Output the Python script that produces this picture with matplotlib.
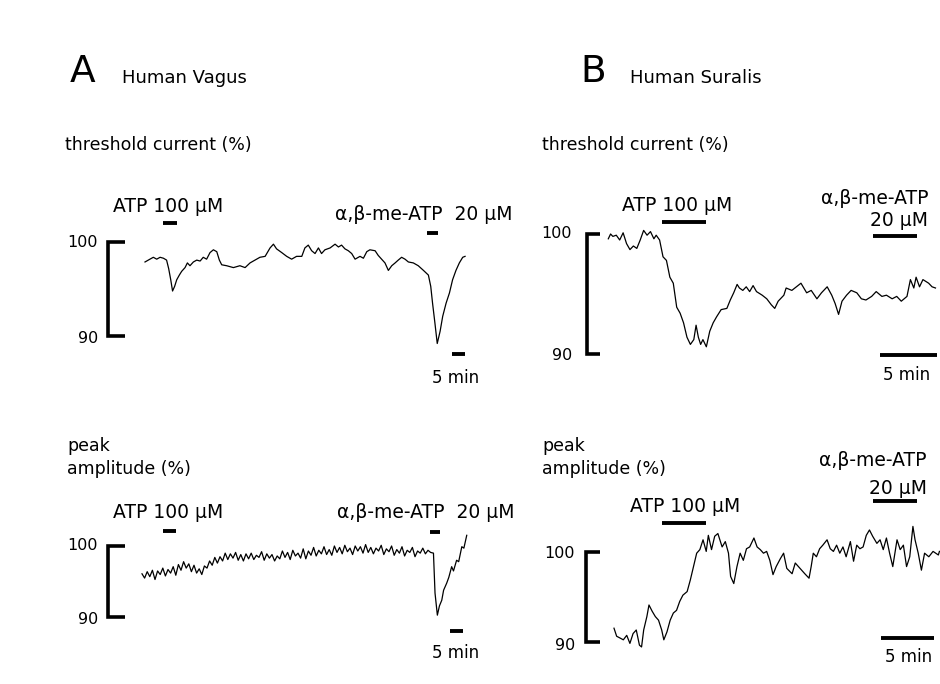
import matplotlib.pyplot as plt

# ==========================================
# Data (time in min, value in % of control)
# ==========================================
# A - Human Vagus, threshold current
A_THR_T = [0, 1.9, 3.2, 4.5, 5.8, 7.1, 8.3, 9.1, 9.9, 10.6, 11.4, 12.2, 13.2, 14.1,
           15.4, 16.3, 17.3, 18.6, 19.9, 21.2, 22.4, 23.7, 25.0, 26.3, 27.6, 28.6,
           29.5, 31.4, 34.0, 36.5, 38.5, 40.4, 42.3, 44.2, 46.2, 48.1, 49.4, 50.6,
           52.6, 54.5, 56.4, 58.3, 60.3, 61.5, 62.8, 64.1, 65.4, 66.7, 67.9, 69.2,
           71.2, 73.1, 74.4, 75.6, 76.9, 78.2, 79.5, 80.8, 82.7, 84.0, 85.3, 86.5,
           88.5, 89.7, 91.0, 92.3, 93.6, 94.9, 96.2, 97.4, 98.7, 100.0, 101.3, 103.2,
           105.1, 107.1, 109.0, 109.9, 110.6, 111.5, 112.4, 113.5, 114.5, 115.8,
           117.1, 118.3, 119.6, 120.9, 122.2, 123.1]
A_THR_V = [97.9, 98.2, 98.4, 98.2, 98.4, 98.3, 98.1, 97.2, 96.0, 94.8, 95.3, 96.0, 96.5, 96.9,
           97.3, 97.8, 97.5, 97.9, 98.1, 98.0, 98.4, 98.2, 98.9, 99.2, 99.0, 98.1,
           97.6, 97.5, 97.3, 97.5, 97.3, 97.8, 98.1, 98.4, 98.5, 99.4, 99.8, 99.3,
           98.9, 98.5, 98.2, 98.5, 98.5, 99.4, 99.7, 99.1, 98.8, 99.4, 98.8, 99.2,
           99.4, 99.8, 99.5, 99.7, 99.3, 99.1, 98.8, 98.2, 98.5, 98.3, 99.0, 99.2,
           99.1, 98.6, 98.2, 97.8, 97.0, 97.5, 97.8, 98.1, 98.4, 98.2, 97.9, 97.8,
           97.5, 97.0, 96.5, 95.3, 93.5, 91.4, 89.2, 90.5, 92.1, 93.5,
           94.6, 96.0, 97.0, 97.8, 98.4, 98.5]

# A - Human Vagus, peak amplitude
A_AMP_T = [0, 1, 2, 3, 4, 5, 6, 7, 8, 9, 10, 11, 12, 13, 14, 15, 16, 17, 18, 19,
           20, 21, 22, 23, 24, 25, 26, 27, 28, 29, 30, 31, 32, 33, 34, 35, 36, 37, 38, 39,
           40, 41, 42, 43, 44, 45, 46, 47, 48, 49, 50, 51, 52, 53, 54, 55, 56, 57, 58, 59,
           60, 61, 62, 63, 64, 65, 66, 67, 68, 69, 70, 71, 72, 73, 74, 75, 76, 77, 78, 79,
           80, 81, 82, 83, 84, 85, 86, 87, 88, 89, 90, 91, 92, 93, 94, 95, 96, 97, 98, 99,
           100, 101, 102, 103, 104, 105, 106, 107, 108, 109, 110, 111,
           112.1, 112.7, 113.6, 114.4, 115.3, 116.0, 117.2, 118.0, 119.1, 119.8,
           121.0, 121.8, 123.0, 123.8, 124.9]
A_AMP_V = [96.1, 95.5, 96.4, 95.7, 96.6, 95.3, 96.5, 96.0, 96.9, 95.8,
           96.7, 96.2, 97.1, 95.9, 97.4, 96.6, 97.8, 96.9, 97.5, 96.4,
           97.3, 96.2, 96.8, 96.0, 97.2, 96.9, 97.9, 97.3, 98.4, 97.6,
           98.5, 97.9, 99.0, 98.1, 98.9, 98.3, 99.1, 98.0, 98.8, 97.9,
           98.9, 98.2, 99.0, 98.1, 98.7, 98.4, 99.2, 98.0, 98.9, 98.3,
           98.8, 97.9, 98.6, 98.2, 99.3, 98.4, 99.1, 98.1, 99.4, 98.6,
           99.0, 98.3, 99.6, 98.2, 99.3, 98.7, 99.8, 98.6, 99.4, 98.9,
           99.9, 98.8, 99.5, 98.7, 100.0, 99.1, 99.8, 98.9, 100.1, 99.2,
           99.7, 98.8, 100.0, 99.3, 99.9, 99.0, 100.2, 99.1, 99.8, 98.9,
           99.7, 99.3, 100.1, 98.8, 99.6, 99.2, 100.0, 98.7, 99.5, 99.0,
           99.9, 98.6, 99.4, 99.1, 99.8, 98.5, 99.3, 99.0, 99.7, 98.9,
           99.4, 99.1,
           99.0, 93.4, 90.3, 91.6, 92.4, 93.8, 94.8, 95.6, 97.1, 96.5,
           98.0, 97.8, 99.9, 99.7, 101.5]

# B - Human Suralis, threshold current
B_THR_T = [0, 0.2, 0.4, 0.7, 1.0, 1.3, 1.6, 1.9, 2.2, 2.5, 2.8, 3.1, 3.4, 3.7, 4.0,
           4.2, 4.5, 4.8, 5.1, 5.4, 5.7, 6.0, 6.3, 6.6, 6.9, 7.2, 7.5, 7.7, 7.9,
           8.1, 8.3, 8.6, 8.9, 9.2, 9.5, 9.9, 10.4, 10.7, 11.0, 11.3, 11.5, 11.8,
           12.1, 12.4, 12.7, 13.0, 13.5, 13.9, 14.3, 14.6, 14.9, 15.4, 15.6, 16.1,
           16.5, 16.9, 17.4, 17.8, 18.3, 18.7, 19.2, 19.6, 19.9, 20.2, 20.5, 20.9,
           21.3, 21.8, 22.2, 22.6, 23.1, 23.5, 24.0, 24.4, 24.9, 25.3, 25.7, 26.2,
           26.5, 26.8, 27.0, 27.3, 27.6, 28.1, 28.4, 28.7]
B_THR_V = [99.6, 100.0, 99.8, 99.9, 99.5, 100.1, 99.2, 98.7, 99.0, 98.8, 99.5, 100.3, 99.9, 100.2, 99.6,
           99.9, 99.5, 98.1, 97.8, 96.4, 95.9, 93.9, 93.4, 92.6, 91.4, 90.8, 91.2, 92.4, 91.4,
           90.8, 91.2, 90.6, 91.9, 92.6, 93.1, 93.7, 93.8, 94.5, 95.1, 95.8, 95.5, 95.3,
           95.6, 95.2, 95.7, 95.2, 94.9, 94.6, 94.1, 93.8, 94.4, 94.9, 95.5, 95.3,
           95.6, 95.9, 95.1, 95.3, 94.6, 95.1, 95.6, 94.9, 94.2, 93.3, 94.4, 94.9,
           95.3, 95.1, 94.6, 94.5, 94.8, 95.2, 94.8, 94.9, 94.6, 94.8, 94.4, 94.8,
           96.2, 95.5, 96.4, 95.6, 96.2, 95.9, 95.6, 95.5]

# B - Human Suralis, peak amplitude
B_AMP_T = [0, 0.25, 0.57, 0.88, 1.2, 1.5, 1.8, 2.1, 2.4, 2.6, 2.8, 3.1, 3.3, 3.6,
           3.9, 4.2, 4.5, 4.7, 5.0, 5.3, 5.6, 5.9, 6.2, 6.5, 6.9, 7.2, 7.5, 7.8,
           8.1, 8.4, 8.7, 8.9, 9.2, 9.5, 9.8, 10.2, 10.5, 10.8, 11.0, 11.3, 11.6,
           11.9, 12.2, 12.5, 12.8, 13.2, 13.5, 13.8, 14.1, 14.4, 14.7, 15.0, 15.3,
           15.7, 16.0, 16.3, 16.8, 17.1, 17.4, 17.7, 18.0, 18.4, 18.6, 18.8, 19.1,
           19.4, 19.7, 20.1, 20.4, 20.7, 21.0, 21.3, 21.6, 21.9, 22.3, 22.6, 22.9,
           23.2, 23.5, 23.8, 24.1, 24.4, 24.8, 25.1, 25.4, 25.7, 26.0, 26.3, 26.7,
           27.0, 27.3, 27.6, 27.9, 28.2, 28.4, 28.7, 29.0, 29.3, 29.7, 30.1, 30.6, 30.7]
B_AMP_V = [91.5, 90.6, 90.4, 90.2, 90.7, 89.8, 90.9, 91.3, 89.6, 89.4, 91.3, 92.8, 94.1, 93.4,
           92.8, 92.4, 91.3, 90.2, 91.1, 92.4, 93.2, 93.5, 94.5, 95.2, 95.6, 96.9, 98.4, 99.9,
           100.3, 101.4, 100.1, 101.9, 100.3, 101.8, 102.1, 100.6, 101.2, 99.9, 97.3, 96.5, 98.4,
           99.9, 99.1, 100.4, 100.6, 101.6, 100.6, 100.3, 99.9, 100.1, 99.1, 97.5, 98.4,
           99.3, 99.9, 98.2, 97.6, 98.8, 98.4, 98.0, 97.6, 97.1, 98.4, 99.9, 99.5,
           100.4, 100.8, 101.4, 100.4, 100.1, 100.8, 99.9, 100.6, 99.5, 101.2, 99.0, 100.8,
           100.4, 100.6, 101.9, 102.5, 101.8, 101.0, 101.4, 100.3, 101.6, 99.9, 98.4, 101.4,
           100.3, 100.8, 98.4, 99.5, 102.9, 101.4, 99.9, 98.0, 99.9, 99.5, 100.1, 99.7, 100.1]

# drug applications (start, end) in min
A_THR_ATP = (7.1, 12.2)
A_THR_MEATP = (108.6, 112.7)
A_AMP_ATP = (8.1, 13.1)
A_AMP_MEATP = (110.8, 114.6)
B_THR_ATP = (4.7, 8.6)
B_THR_MEATP = (23.2, 27.1)
B_AMP_ATP = (4.5, 8.7)
B_AMP_MEATP = (24.4, 28.6)
SCALE_MIN = 5

# ==========================================
# Layout (pixels of a 940 x 684 figure)
# ==========================================
W, H = 940, 684
plt.rcParams["font.family"] = "DejaVu Sans"
fig = plt.figure(figsize=(W / 100, H / 100), dpi=100, facecolor="white")


def panel(box, x0, y100, px_min, px_pct):
    """Axes whose data units are min / %, placed so that t=0 sits at x0 px and 100 % at y100 px."""
    L, T, R, B = box
    ax = fig.add_axes([L / W, 1 - B / H, (R - L) / W, (B - T) / H])
    ax.set_xlim((L - x0) / px_min, (R - x0) / px_min)
    ax.set_ylim(100 - (B - y100) / px_pct, 100 + (y100 - T) / px_pct)
    ax.axis("off")
    return ax


def label(x, y, s, size=13.5, ha="left", va="center"):
    fig.text(x / W, 1 - y / H, s, fontsize=size, ha=ha, va=va, color="black")


def draw(ax, t, v, drugs, bracket, scale):
    ax.plot(t, v, color="black", lw=0.9, clip_on=False)
    for (t0, t1), y in drugs:
        ax.plot([t0, t1], [y, y], color="black", lw=2.8, solid_capstyle="butt", clip_on=False)
    bx, tx = bracket
    ax.plot([tx, bx, bx, tx], [100, 100, 90, 90], color="black", lw=2.6,
            solid_joinstyle="miter", solid_capstyle="butt", clip_on=False)
    s0, sy = scale
    ax.plot([s0, s0 + SCALE_MIN], [sy, sy], color="black", lw=2.8,
            solid_capstyle="butt", clip_on=False)


# --- A: threshold current ---
ax = panel((50, 185, 520, 400), x0=145, y100=242.3, px_min=2.6, px_pct=9.37)
draw(ax, A_THR_T, A_THR_V, [(A_THR_ATP, 102.1), (A_THR_MEATP, 101.0)],
     bracket=(-14.2, -7.7), scale=(118.1, 88.1))

# --- A: peak amplitude ---
ax = panel((50, 490, 520, 670), x0=142, y100=546, px_min=2.6, px_pct=7.13)
draw(ax, A_AMP_T, A_AMP_V, [(A_AMP_ATP, 102.1), (A_AMP_MEATP, 102.0)],
     bracket=(-13.1, -6.5), scale=(118.5, 88.1))

# --- B: threshold current ---
ax = panel((530, 180, 940, 400), x0=608.3, y100=234, px_min=11.4, px_pct=12.0)
draw(ax, B_THR_T, B_THR_V, [(B_THR_ATP, 101.0), (B_THR_MEATP, 99.8)],
     bracket=(-1.87, -0.73), scale=(23.8, 89.95))

# --- B: peak amplitude ---
ax = panel((530, 440, 940, 670), x0=614, y100=552.3, px_min=10.6, px_pct=8.93)
draw(ax, B_AMP_T, B_AMP_V, [(B_AMP_ATP, 103.25), (B_AMP_MEATP, 105.8)],
     bracket=(-2.64, -1.32), scale=(25.2, 90.4))

# ==========================================
# Texts
# ==========================================
label(70, 82, "A", size=27, va="baseline")
label(122, 83, "Human Vagus", size=13, va="baseline")
label(580, 82, "B", size=27, va="baseline")
label(630, 83, "Human Suralis", size=13, va="baseline")

label(65, 145, "threshold current (%)", size=12.5)
label(542, 145, "threshold current (%)", size=12.5)
label(67, 446, "peak", size=12.5)
label(67, 469, "amplitude (%)", size=12.5)
label(542, 446, "peak", size=12.5)
label(542, 469, "amplitude (%)", size=12.5)

# A top
label(113, 207, "ATP 100 µM")
label(335, 214, "α,β-me-ATP  20 µM")
label(98, 242, "100", size=11.5, ha="right")
label(98, 338, "90", size=11.5, ha="right")
label(432, 378, "5 min", size=12)

# A bottom
label(113, 513, "ATP 100 µM")
label(337, 513, "α,β-me-ATP  20 µM")
label(98, 546, "100", size=11.5, ha="right")
label(98, 620, "90", size=11.5, ha="right")
label(432, 653, "5 min", size=12)

# B top
label(622, 205, "ATP 100 µM")
label(928, 198, "α,β-me-ATP", ha="right")
label(928, 220, "20 µM", ha="right")
label(572, 234, "100", size=11.5, ha="right")
label(572, 356, "90", size=11.5, ha="right")
label(930, 375, "5 min", size=12, ha="right")

# B bottom
label(630, 507, "ATP 100 µM")
label(927, 460, "α,β-me-ATP", ha="right")
label(927, 488, "20 µM", ha="right")
label(575, 553, "100", size=11.5, ha="right")
label(575, 646, "90", size=11.5, ha="right")
label(932, 657, "5 min", size=12, ha="right")

fig.savefig("out.png", dpi=100, facecolor="white")
